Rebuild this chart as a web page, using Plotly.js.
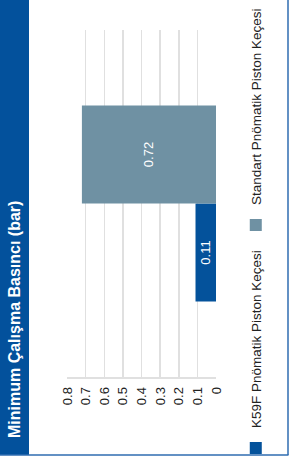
<!DOCTYPE html>
<html>
<head>
<meta charset="utf-8">
<script src="https://cdn.plot.ly/plotly-3.0.1.min.js"></script>
<style>
html,body{margin:0;padding:0;background:#fff;width:290px;height:475px;overflow:hidden;}
#chart{position:absolute;left:0;top:0;width:475px;height:290px;transform-origin:0 0;transform:translateY(475px) rotate(-90deg);}
</style>
</head>
<body>
<div id="chart"></div>
<script>
// Data
var chartTitle = "Minimum Çalışma Basıncı (bar)";
var seriesNames = ["K59F Pnömatik Piston Keçesi", "Standart Pnömatik Piston Keçesi"];
var seriesValues = [0.11, 0.72];
var seriesLabels = ["0.11", "0.72"];
var seriesColors = ["#04529b", "#6f91a3"];
var category = [""];
var yTickValues = [0, 0.1, 0.2, 0.3, 0.4, 0.5, 0.6, 0.7, 0.8];
var yTickLabels = ["0", "0.1", "0.2", "0.3", "0.4", "0.5", "0.6", "0.7", "0.8"];

var W = 475, H = 290;
var M = {l: 98, r: 30, t: 67, b: 74};
var pw = W - M.l - M.r, ph = H - M.t - M.b;
function px(X){ return (X - M.l) / pw; }
function py(Y){ return (H - M.b - Y) / ph; }

var font = '"Liberation Sans", Arial, sans-serif';
var legendIds = ['legend', 'legend2'];
var traces = seriesNames.map(function(n, i){
  return {
    type: 'bar', name: n, x: category, y: [seriesValues[i]],
    text: [seriesLabels[i]], textposition: 'inside', insidetextanchor: 'middle',
    textangle: 0, constraintext: 'none',
    textfont: {color: '#ffffff', size: 13, family: font},
    marker: {color: seriesColors[i], line: {width: 0}},
    legend: legendIds[i],
    hoverinfo: 'skip'
  };
});

function legendAt(X){
  return {orientation: 'h', xref: 'container', yref: 'container', x: X / W, xanchor: 'left', y: 1 - 256 / H, yanchor: 'middle',
          font: {family: font, size: 13.5, color: '#222222'}, bgcolor: 'rgba(0,0,0,0)'};
}

var layout = {
  width: W, height: H,
  margin: M,
  paper_bgcolor: '#ffffff', plot_bgcolor: '#ffffff',
  font: {family: font, color: '#222222'},
  barmode: 'group', bargap: 0.435, bargroupgap: 0,
  showlegend: true,
  title: {text: chartTitle, font: {family: font, size: 16, color: '#ffffff', weight: 'bold'},
          xref: 'container', yref: 'container', x: 37 / W, xanchor: 'left', y: 1 - 14.5 / H, yanchor: 'middle', pad: {t:0,b:0,l:0,r:0}},
  xaxis: {type: 'category', showticklabels: false, showgrid: false, zeroline: false, showline: false, ticks: '', range: [-0.5, 0.5]},
  yaxis: {range: [0, 0.8], tickvals: yTickValues, ticktext: yTickLabels, showgrid: true, gridcolor: '#e0e0e0', gridwidth: 1.5,
          zeroline: false, showline: true, linecolor: '#e0e0e0', linewidth: 1.5, ticks: '', ticklabelstandoff: 6,
          tickfont: {family: font, size: 13, color: '#222222'}},
  legend: legendAt(7),
  legend2: legendAt(230),
  shapes: [
    {type: 'rect', xref: 'paper', yref: 'paper', x0: px(20), x1: px(W + 2), y0: py(29), y1: py(-2), fillcolor: '#03519c', line: {width: 0}, layer: 'above'},
    {type: 'line', xref: 'paper', yref: 'paper', x0: px(20), x1: px(20), y0: py(-2), y1: py(288.5), line: {color: '#2f6db0', width: 1.5}},
    {type: 'line', xref: 'paper', yref: 'paper', x0: px(20), x1: px(W + 2), y0: py(288), y1: py(288), line: {color: '#2f6db0', width: 1.5}}
  ]
};

Plotly.newPlot('chart', traces, layout, {staticPlot: true, displayModeBar: false});
</script>
</body>
</html>
